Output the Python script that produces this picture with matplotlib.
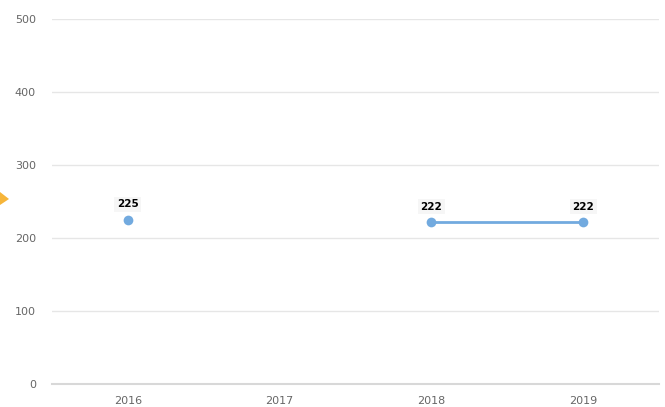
import numpy as np
import matplotlib
matplotlib.use("Agg")
import matplotlib.pyplot as plt
from matplotlib.patches import Polygon

years = ["2016", "2017", "2018", "2019"]
values = [225, None, 222, 222]
y_ticks = [0, 100, 200, 300, 400, 500]

line_color = "#72aadf"

fig = plt.figure(figsize=(6.65, 4.07), dpi=100)
ax = fig.add_axes([52 / 665, 23 / 407, 607 / 665, 365 / 407])

x = np.arange(len(years))
y = np.array([np.nan if v is None else v for v in values], dtype=float)

ax.plot(x, y, color=line_color, linewidth=2, marker="o", markersize=7,
        markeredgewidth=0, zorder=3)

for xi, v in zip(x, values):
    if v is None:
        continue
    ax.annotate(str(v), (xi, v), xytext=(0, 11), textcoords="offset points",
                ha="center", va="center", fontsize=7.5, fontweight="bold",
                color="#000000",
                bbox=dict(boxstyle="square,pad=0.25", fc="#f6f6f6", ec="none"))

ax.set_xlim(-0.5, len(years) - 0.5)
ax.set_ylim(0, 500)
ax.set_xticks(x)
ax.set_xticklabels(years)
ax.set_yticks(y_ticks)

ax.grid(axis="y", color="#e6e6e6", linewidth=1)
ax.set_axisbelow(True)
for side in ["top", "right", "left"]:
    ax.spines[side].set_visible(False)
ax.spines["bottom"].set_color("#d8d8d8")
ax.spines["bottom"].set_linewidth(1.5)

ax.tick_params(axis="both", length=0, labelsize=8, labelcolor="#666666")
ax.tick_params(axis="y", pad=11.5)
ax.tick_params(axis="x", pad=9)

# orange chevron fragment at the left edge
fig.patches.append(Polygon([[0, 1 - 192 / 407], [9 / 665, 1 - 199 / 407], [0, 1 - 205 / 407]],
                           closed=True, transform=fig.transFigure,
                           fc="#f6b53a", ec="none"))

fig.savefig("out.png", dpi=100)
